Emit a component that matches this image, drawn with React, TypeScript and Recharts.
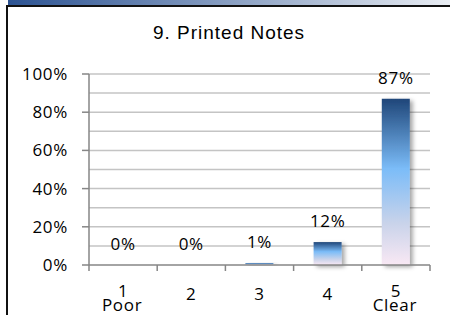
import React from "react";
import { Bar, ComposedChart, CartesianGrid, LabelList, Line, XAxis, YAxis } from "recharts";

// Survey answers for question 9
const categories = ["1", "2", "3", "4", "5"];
const subLabels = ["Poor", "", "", "", "Clear"];
const values = [0, 0, 1, 12, 87];
const yTicks = [0, 20, 40, 60, 80, 100];
const gridLines = [10, 20, 30, 40, 50, 60, 70, 80, 90, 100];

const data = categories.map((name, i) => ({ name, sub: subLabels[i], value: values[i] }));

const W = 450;
const H = 315;
const margin = { top: 74, right: 20, left: 0, bottom: 0 };
const yAxisWidth = 89;
const band = (W - margin.left - margin.right - yAxisWidth) / categories.length;
const font = "'Open Sans', sans-serif";
const textStyle = { fontSize: 17, fill: "#000", fontFamily: font, letterSpacing: 0.7 };

const CategoryTick = (props: any) => {
  const { x, y, payload, index } = props;
  const sub = subLabels[index];
  const last = index === categories.length - 1;
  return (
    <g>
      <line x1={x - band / 2} x2={x - band / 2} y1={y} y2={y + 6} stroke="#868686" strokeWidth={1.5} />
      {last && <line x1={x + band / 2} x2={x + band / 2} y1={y} y2={y + 6} stroke="#868686" strokeWidth={1.5} />}
      <text x={x} y={y + (sub ? 32 : 35)} textAnchor="middle" {...textStyle}>
        {payload.value}
      </text>
      {sub && (
        <text x={x - 1} y={y + 46} textAnchor="middle" {...textStyle}>
          {sub}
        </text>
      )}
    </g>
  );
};

export default function App() {
  return (
    <div style={{ position: "absolute", left: 0, top: 0, width: W, height: H, background: "#fff", overflow: "hidden" }}>
      <div
        style={{
          position: "absolute",
          left: 8,
          top: 0,
          width: W - 8,
          height: 5,
          background: "linear-gradient(to right, #2c5392, #7f97bd 45%, #e9edf3)",
        }}
      />
      <div style={{ position: "absolute", left: 6, top: 5, width: W - 6, height: 2, background: "#111" }} />
      <div style={{ position: "absolute", left: 6, top: 5, width: 2, height: H - 5, background: "#111" }} />
      <div
        style={{
          position: "absolute",
          left: 0,
          top: 22,
          width: 458,
          textAlign: "center",
          fontFamily: "'Liberation Sans', Arial, sans-serif",
          fontSize: 19,
          letterSpacing: 1,
          color: "#000",
        }}
      >
        9. Printed Notes
      </div>
      <ComposedChart width={W} height={H} data={data} margin={margin} style={{ position: "absolute", left: 0, top: 0 }}>
        <defs>
          <linearGradient id="barFill" x1="0" y1="0" x2="0" y2="1">
            <stop offset="0%" stopColor="#1f4679" />
            <stop offset="42%" stopColor="#7bbcf8" />
            <stop offset="75%" stopColor="#c9d3ea" />
            <stop offset="100%" stopColor="#f9e8f4" />
          </linearGradient>
          <filter id="barShadow" x="-20%" y="-20%" width="160%" height="160%">
            <feDropShadow dx="3" dy="2" stdDeviation="2" floodColor="#000" floodOpacity="0.35" />
          </filter>
        </defs>
        <CartesianGrid vertical={false} horizontalValues={gridLines} stroke="#c4c4c4" strokeWidth={1.5} />
        <XAxis
          dataKey="name"
          height={50}
          axisLine={{ stroke: "#868686", strokeWidth: 1.5 }}
          tickLine={false}
          tickSize={0}
          tickMargin={0}
          interval={0}
          tick={<CategoryTick />}
        />
        <YAxis
          width={yAxisWidth}
          domain={[0, 100]}
          ticks={yTicks}
          interval={0}
          tickFormatter={(v) => `${v}%`}
          axisLine={{ stroke: "#868686", strokeWidth: 1.5 }}
          tickLine={{ stroke: "#868686", strokeWidth: 1.5 }}
          tickSize={7}
          tickMargin={14}
          tick={textStyle}
        />
        <Bar dataKey="value" barSize={28} fill="url(#barFill)" filter="url(#barShadow)" isAnimationActive={false} />
        {/* invisible series that carries the value labels, so 0% bars get one too */}
        <Line dataKey="value" stroke="none" dot={false} activeDot={false} isAnimationActive={false}>
          <LabelList dataKey="value" position="top" offset={15} formatter={(v: any) => `${v}%`} {...textStyle} />
        </Line>
      </ComposedChart>
    </div>
  );
}
